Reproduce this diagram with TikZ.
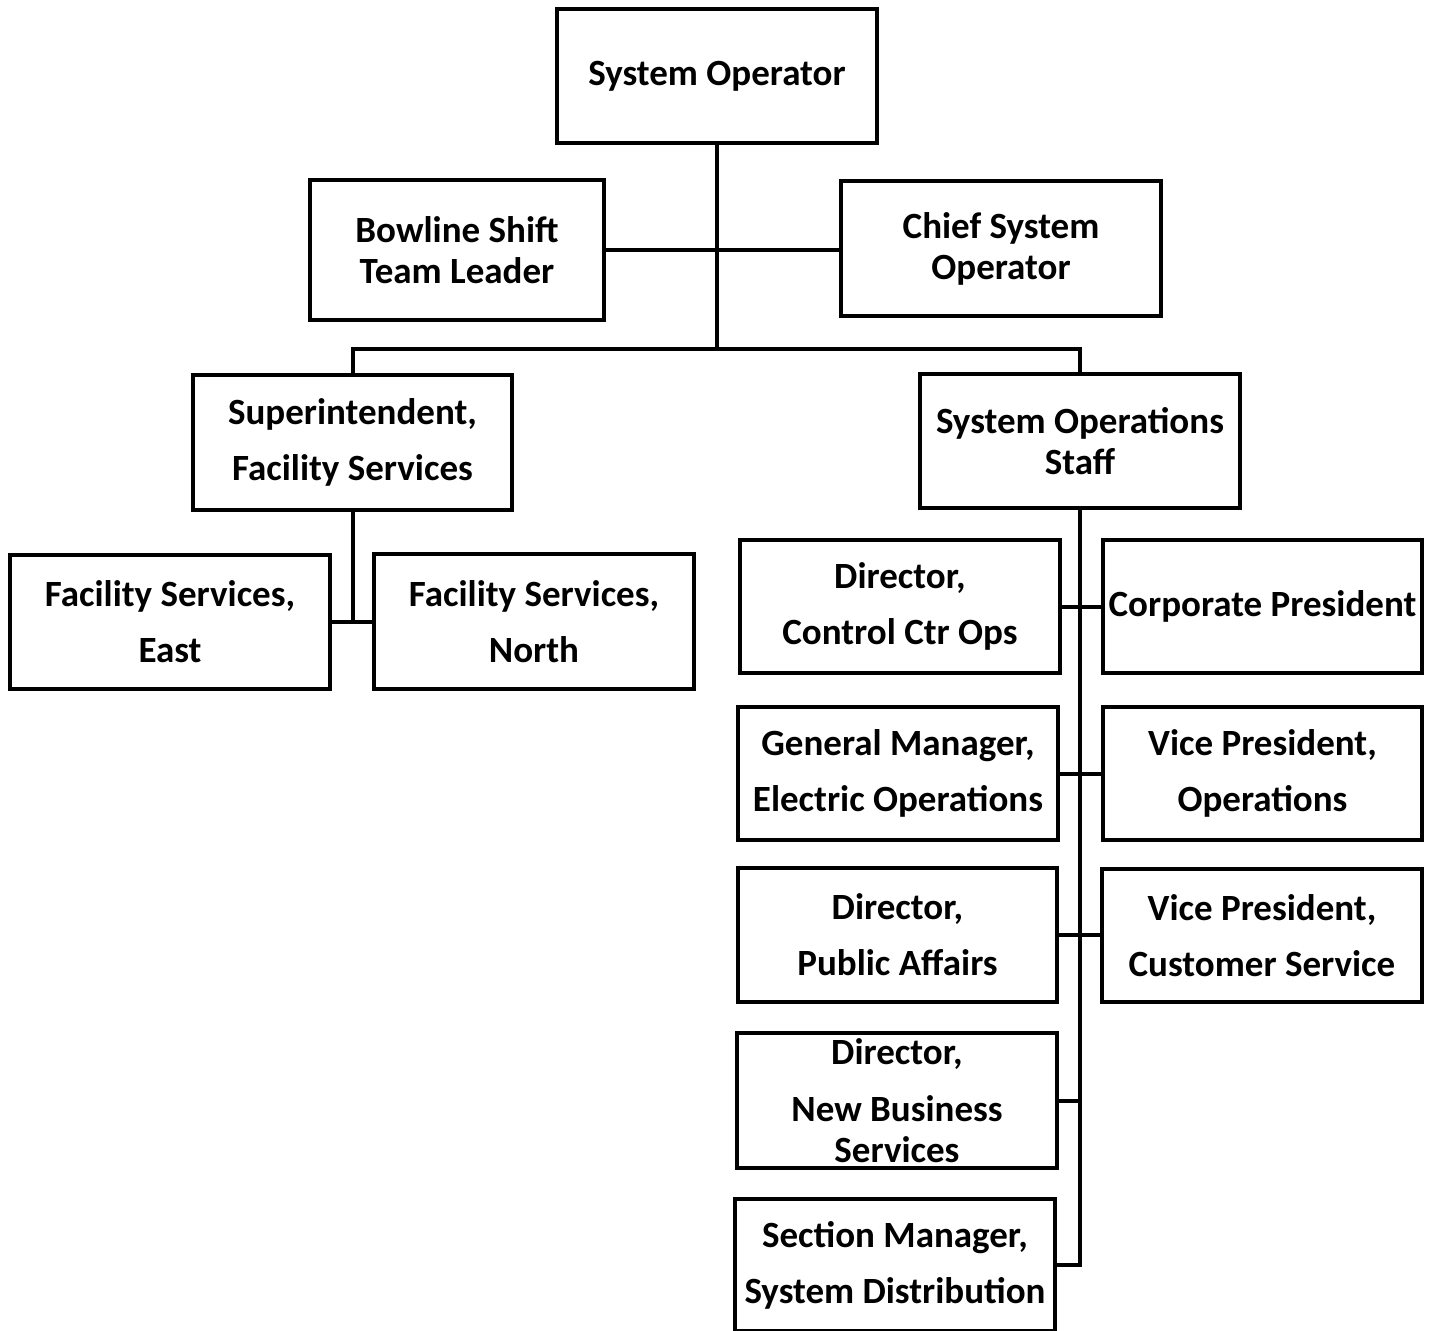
\documentclass[tikz,border=0pt]{standalone}
\usepackage{fontspec}
\setmainfont{Carlito}
\begin{document}
\begin{tikzpicture}[x=1pt,y=-1pt,
  box/.style={draw, line width=4pt, minimum width=320pt, minimum height=134pt,
    align=center, inner sep=0pt, font=\fontsize{37}{41}\selectfont\bfseries},
  wide/.style={font=\fontsize{37}{56}\selectfont\bfseries},
  conn/.style={line width=4pt}]
\useasboundingbox (0,0) rectangle (1436,1331);
\node[box] (so) at (717,76) {System Operator};
\node[box, minimum width=294pt, minimum height=140pt] (bstl) at (457,250) {Bowline Shift\\Team Leader};
\node[box, minimum height=135pt] (cso) at (1001,248.5) {Chief System\\Operator};
\node[box, wide, minimum width=319pt, minimum height=135pt] (sup) at (352.5,442.5) {Superintendent,\\Facility Services};
\node[box] (sos) at (1080,441) {System Operations\\Staff};
\node[box, wide] (fse) at (170,622) {Facility Services,\\East};
\node[box, wide, minimum height=135pt] (fsn) at (534,621.5) {Facility Services,\\North};
\node[box, wide, minimum height=133pt] (dcco) at (900,606.5) {Director,\\Control Ctr Ops};
\node[box, minimum width=319pt, minimum height=133pt] (cp) at (1262.5,606.5) {Corporate President};
\node[box, wide, minimum height=133pt] (gm) at (898,773.5) {General Manager,\\Electric Operations};
\node[box, wide, minimum width=319pt, minimum height=133pt] (vpo) at (1262.5,773.5) {Vice President,\\Operations};
\node[box, wide, minimum width=319pt] (dpa) at (897.5,935) {Director,\\Public Affairs};
\node[box, wide, minimum height=133pt] (vpcs) at (1262,935.5) {Vice President,\\Customer Service};
\node[box, minimum height=135pt] (dnbs) at (897,1100.5) {Director,\\[16pt]New Business\\Services};
\node[box, wide, minimum height=132pt] (sm) at (895,1265) {Section Manager,\\System Distribution};
\coordinate (bus) at (717,349);
\coordinate (fj) at (352.5,622);
\draw[conn] (so.south) -- (bus);
\draw[conn] (sup.north) |- (bus) -| (sos.north);
\draw[conn] (bstl.east) -- (bstl.east -| cso.west);
\draw[conn] (sup.south) -- (fj);
\draw[conn] (fse.east) -- (fse.east -| fsn.west);
\draw[conn] (sos.south) |- (sm.east);
\draw[conn] (dcco.east) -- (dcco.east -| cp.west);
\draw[conn] (gm.east) -- (gm.east -| vpo.west);
\draw[conn] (dpa.east) -- (dpa.east -| vpcs.west);
\draw[conn] (dnbs.east) -- (dnbs.east -| sos.south);
\end{tikzpicture}
\end{document}
